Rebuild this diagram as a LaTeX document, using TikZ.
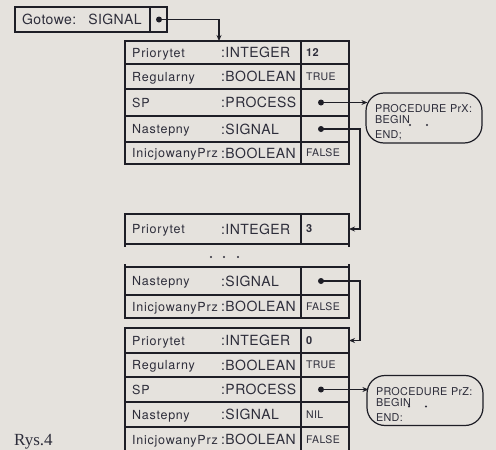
\documentclass[tikz,border=0pt]{standalone}
\usepackage{fontspec}
\newfontfamily\hv{TeX Gyre Heros}
\newfontfamily\hvn{TeX Gyre Heros}[LetterSpace=6]
\newfontfamily\hvt{TeX Gyre Heros}[LetterSpace=3]
\newfontfamily\rysfont{Liberation Serif}
\usetikzlibrary{arrows.meta,calc}
\definecolor{paper}{RGB}{229,226,221}
\definecolor{ink}{RGB}{30,30,38}
\definecolor{txt}{RGB}{45,45,58}
\newcommand{\numfont}{\bfseries\fontsize{11}{13}\selectfont}
\newcommand{\recrow}[6]{%
  \node[rowbox,minimum height={(#3-#2)*1pt},anchor=north west] (#1) at (125,#2) {};
  \node[valbox,minimum height={(#3-#2)*1pt},anchor=north west] (#1v) at (301,#2) {};
  \node[nametext] (#1n) at (132,{(#2+#3)/2+4.5}) {#4};
  \node[typetext] (#1t) at (221,{(#2+#3)/2+5}) {#5};
  \node[valtext] (#1x) at (306,{(#2+#3)/2+3.9}) {#6};
}
\tikzset{
  rowbox/.style={draw=ink,line width=1.2pt,minimum width=224pt,inner sep=0pt,outer sep=0pt},
  valbox/.style={draw=ink,line width=1.2pt,minimum width=48pt,inner sep=0pt,outer sep=0pt},
  gbox/.style={draw=ink,line width=1.2pt,inner sep=0pt,outer sep=0pt},
  nametext/.style={anchor=base west,inner sep=0pt,text=txt,font=\hvn\fontsize{12.5}{14}\selectfont},
  typetext/.style={anchor=base west,inner sep=0pt,text=txt,font=\hvt\fontsize{14}{16}\selectfont},
  valtext/.style={anchor=base west,inner sep=0pt,text=txt,font=\hvt\fontsize{10.5}{12}\selectfont},
  ptrdot/.style={circle,fill=ink,inner sep=0pt,minimum size=6pt},
  conn/.style={draw=ink,line width=1.3pt,-{Stealth[length=6pt,width=5pt]}},
  procbox/.style={draw=ink,line width=1.2pt,rounded corners=18pt,minimum width=116pt,minimum height=50pt,
    text width=98pt,align=left,inner sep=0pt,text=txt,font=\hvt\fontsize{10.8}{12.6}\selectfont},
  edge/.style={draw=ink,line width=1.2pt}
}
\begin{document}
\begin{tikzpicture}[x=1pt,y=-1pt]
\clip (0,0) rectangle (496,450);
\fill[paper] (0,0) rectangle (496,450);

% Gotowe
\node[gbox,minimum width=152pt,minimum height=25pt,anchor=north west] (gto) at (15,7) {};
\node[gbox,minimum width=17pt,minimum height=25pt,anchor=north west] (gtp) at (150,7) {};
\node[anchor=base west,inner sep=0pt,text=txt,font=\hvt\fontsize{14}{16}\selectfont] (gtt) at (22,24.5) {Gotowe:\hspace{12pt}SIGNAL};
\node[ptrdot] (gtd) at (159,19.5) {};
\coordinate (gin) at (219,41);

% first record
\recrow{a1}{41}{64}{Priorytet}{:INTEGER}{{\numfont 12}}
\recrow{a2}{64}{89}{Regularny}{:BOOLEAN}{TRUE}
\recrow{a3}{89}{116}{SP}{:PROCESS}{}
\recrow{a4}{116}{142}{Nastepny}{:SIGNAL}{}
\recrow{a5}{142}{164}{InicjowanyPrz}{:BOOLEAN}{FALSE}
\node[ptrdot] (d1) at (321,102.5) {};
\node[ptrdot] (d2) at (321,129) {};

\node[procbox] (prx) at (424,118) {\rule{0pt}{16pt}PROCEDURE PrX:\\[-1.6pt]BEGIN\\[2.4pt]END;};
\fill[txt] (410,125) circle (1.1pt) (427,125) circle (1.1pt);

% middle fragment
\recrow{m1}{214}{244}{Priorytet}{:INTEGER}{{\numfont 3}}
\draw[edge] (m1.south west) -- ++(0,3);
\draw[edge] (m1.south east) -- ++(0,3);
\fill[txt] (211,257) circle (1.1pt) (224,257) circle (1.1pt) (238,257) circle (1.1pt);

% lower fragment
\recrow{f1}{267}{295}{Nastepny}{:SIGNAL}{}
\recrow{f2}{295}{318}{InicjowanyPrz}{:BOOLEAN}{FALSE}
\draw[edge] (f1.north west) -- ++(0,-3);
\draw[edge] (f1.north east) -- ++(0,-3);
\node[ptrdot] (d3) at (321,281) {};

% last record
\recrow{b1}{328}{353}{Priorytet}{:INTEGER}{{\numfont 0}}
\recrow{b2}{353}{377}{Regularny}{:BOOLEAN}{TRUE}
\recrow{b3}{377}{402}{SP}{:PROCESS}{}
\recrow{b4}{402}{427}{Nastepny}{:SIGNAL}{NIL}
\recrow{b5}{427}{452}{InicjowanyPrz}{:BOOLEAN}{FALSE}
\node[ptrdot] (d4) at (321,389.5) {};

\node[procbox] (prz) at (425,400.5) {\rule{0pt}{16pt}PROCEDURE PrZ:\\[-1.6pt]BEGIN\\[2.4pt]END:};
\fill[txt] (409,406.5) circle (1.1pt) (426,406.5) circle (1.1pt);

% connectors
\coordinate (ca) at (360,229);
\coordinate (cb) at (360,340.5);
\draw[conn] (gtd.center) -| (gin);
\draw[conn] (d1.center) -- ($(prx.west |- d1.center)+(2,0)$);
\draw[conn] (d2.center) -| (ca) -- (m1.east);
\draw[conn] (d3.center) -| (cb) -- (b1.east);
\draw[conn] (d4.center) -- ($(prz.west |- d4.center)+(2,0)$);

\node[anchor=base west,inner sep=0pt,text=txt,font=\rysfont\fontsize{17}{19}\selectfont] (rys) at (14,445) {Rys.4};
\end{tikzpicture}
\end{document}
